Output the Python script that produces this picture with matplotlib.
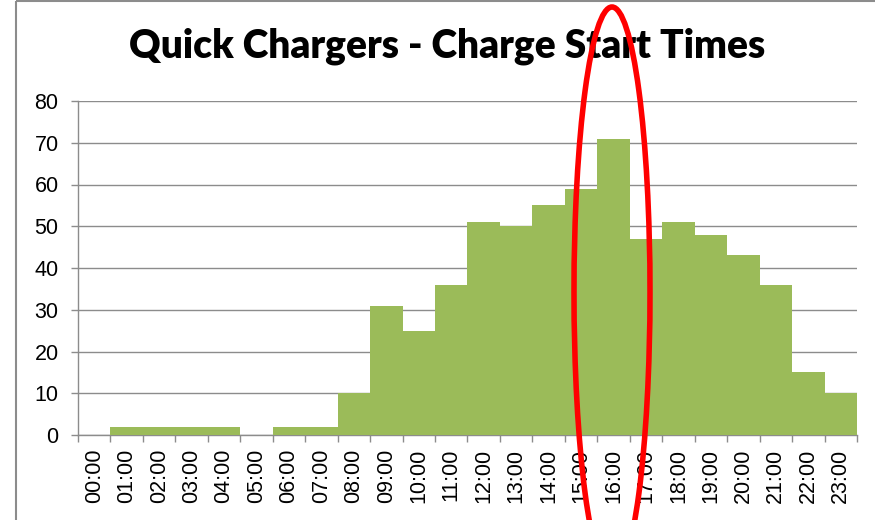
import matplotlib
matplotlib.use("Agg")
import matplotlib.pyplot as plt
from matplotlib.patches import Ellipse, Rectangle

hours = ["%02d:00" % h for h in range(24)]
starts = [0, 2, 2, 2, 2, 0, 2, 2, 10, 31, 25, 36,
          51, 50, 55, 59, 71, 47, 51, 48, 43, 36, 15, 10]
yticks = [0, 10, 20, 30, 40, 50, 60, 70, 80]

W, H = 875, 520
fig = plt.figure(figsize=(W / 100, H / 100), dpi=100)
ax = fig.add_axes([78 / W, 1 - 435 / H, (857 - 78) / W, (435 - 101) / H])

pos = list(range(len(hours)))
ax.bar(pos, starts, width=1.0, align="edge", color="#9bbb59",
       linewidth=0, zorder=3)

ax.set_xlim(0, 24)
ax.set_ylim(0, 80)
ax.set_yticks(yticks)
ax.set_yticklabels([str(v) for v in yticks], fontsize=15.5, family="Liberation Sans")
ax.yaxis.grid(True, color="#8c8c8c", linewidth=1.0, zorder=0)

ax.set_xticks(range(25))
ax.set_xticklabels([])
ax.set_xticks([p + 0.5 for p in pos], minor=True)
ax.set_xticklabels(hours, minor=True, rotation=90, fontsize=15.5,
                   family="Liberation Sans", va="top")
ax.tick_params(axis="x", which="minor", length=0, pad=10)
ax.tick_params(axis="x", which="major", length=5, color="#8c8c8c", width=1)
ax.tick_params(axis="y", length=5, color="#8c8c8c", width=1, pad=9)

for s in ["top", "right"]:
    ax.spines[s].set_visible(False)
for s in ["left", "bottom"]:
    ax.spines[s].set_color("#8c8c8c")
    ax.spines[s].set_linewidth(1.0)

fig.text(447 / W, 1 - 46 / H, "Quick Chargers - Charge Start Times",
         ha="center", va="center", fontsize=28, fontweight="heavy", family="Lato")

# overlay: frame and red ellipse, in pixel coordinates
ov = fig.add_axes([0, 0, 1, 1], zorder=10)
ov.set_xlim(0, W)
ov.set_ylim(H, 0)
ov.axis("off")
ov.patch.set_alpha(0)
ov.add_patch(Rectangle((16, 1), 900, 600, fill=False, edgecolor="#8c8c8c", linewidth=1.5))
ov.add_patch(Ellipse((612, 292), 76, 570, fill=False, edgecolor="#ff0000", linewidth=4))

fig.savefig("out.png", dpi=100)
